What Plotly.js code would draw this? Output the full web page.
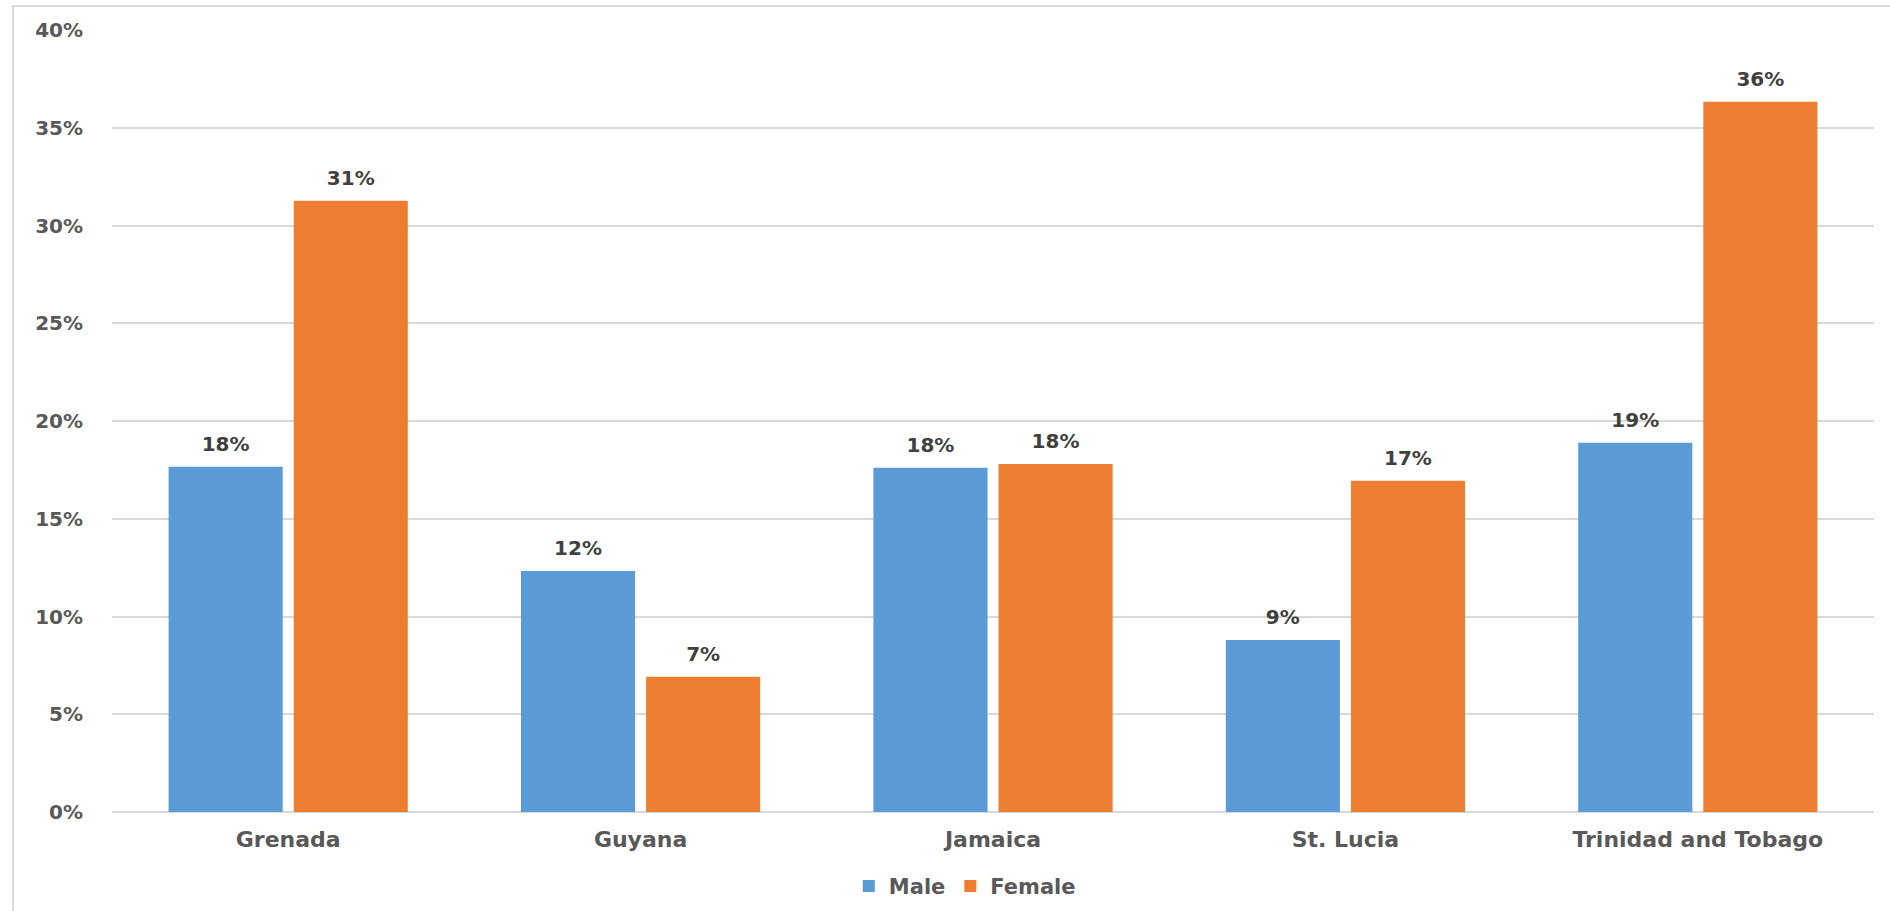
<!DOCTYPE html>
<html>
<head>
<meta charset="utf-8">
<script src="https://cdn.plot.ly/plotly-3.0.1.min.js"></script>
<style>
  html, body { margin: 0; padding: 0; background: #ffffff; overflow: hidden; }
  #frame { position: absolute; left: 12px; top: 5px; width: 1960px; height: 1000px; border: 2px solid #d9d9d9; box-sizing: border-box; }
  #chart { position: absolute; left: 0; top: 0; width: 1890px; height: 911px; }
</style>
</head>
<body>
<div id="frame"></div>
<div id="chart"></div>
<script>
const countries = ["Grenada", "Guyana", "Jamaica", "St. Lucia", "Trinidad and Tobago"];
const male = [0.1766, 0.1233, 0.1761, 0.0880, 0.1889];
const female = [0.3127, 0.0692, 0.1780, 0.1695, 0.3633];
const yTicks = [0, 0.05, 0.10, 0.15, 0.20, 0.25, 0.30, 0.35, 0.40];
const yTickText = ["0%", "5%", "10%", "15%", "20%", "25%", "30%", "35%", "40%"];

const fontFamily = "'DejaVu Sans', 'Open Sans', sans-serif";
const textColor = "#595959";

const labelFont = { family: fontFamily, size: 20, color: "#404040", weight: 700 };
const hiddenMarker = { size: 16, color: "rgba(0,0,0,0)", line: { width: 0 } };

const traces = [
  {
    type: "bar", name: "Male", x: countries, y: male,
    offsetgroup: "m",
    marker: { color: "#5B9BD5", line: { width: 0 } },
    hoverinfo: "skip"
  },
  {
    type: "bar", name: "Female", x: countries, y: female,
    offsetgroup: "f",
    marker: { color: "#ED7D31", line: { width: 0 } },
    hoverinfo: "skip"
  },
  {
    type: "scatter", mode: "markers+text", name: "Male labels", x: countries, y: male,
    offsetgroup: "m", texttemplate: "%{y:.0%}", textposition: "top center",
    marker: hiddenMarker, textfont: labelFont, showlegend: false, cliponaxis: false,
    hoverinfo: "skip"
  },
  {
    type: "scatter", mode: "markers+text", name: "Female labels", x: countries, y: female,
    offsetgroup: "f", texttemplate: "%{y:.0%}", textposition: "top center",
    marker: hiddenMarker, textfont: labelFont, showlegend: false, cliponaxis: false,
    hoverinfo: "skip"
  }
];

const layout = {
  width: 1890, height: 911,
  margin: { l: 112, r: 16, t: 30, b: 99, pad: 0 },
  paper_bgcolor: "rgba(0,0,0,0)",
  plot_bgcolor: "rgba(0,0,0,0)",
  barmode: "group",
  bargap: 0.29,
  bargroupgap: 0.088,
  scattermode: "group",
  scattergap: 0.29,
  showlegend: true,
  legend: {
    orientation: "h", x: 0.484, xanchor: "center",
    yref: "container", y: 0.027, yanchor: "middle",
    font: { family: fontFamily, size: 21, color: textColor, weight: 700 },
    tracegroupgap: 20, bgcolor: "rgba(0,0,0,0)"
  },
  xaxis: {
    type: "category",
    showgrid: false, zeroline: false, showline: false,
    ticks: "", ticklabelstandoff: 12,
    tickfont: { family: fontFamily, size: 22, color: textColor, weight: 700 },
    fixedrange: true
  },
  yaxis: {
    range: [0, 0.40],
    tickvals: yTicks, ticktext: yTickText,
    showgrid: true, gridcolor: "#d9d9d9", gridwidth: 2,
    zeroline: true, zerolinecolor: "#d9d9d9", zerolinewidth: 2,
    showline: false, ticks: "", ticklabelstandoff: 28,
    tickfont: { family: fontFamily, size: 20, color: textColor, weight: 700 },
    fixedrange: true
  }
};

Plotly.newPlot("chart", traces, layout, { displayModeBar: false, staticPlot: true });
</script>
</body>
</html>
